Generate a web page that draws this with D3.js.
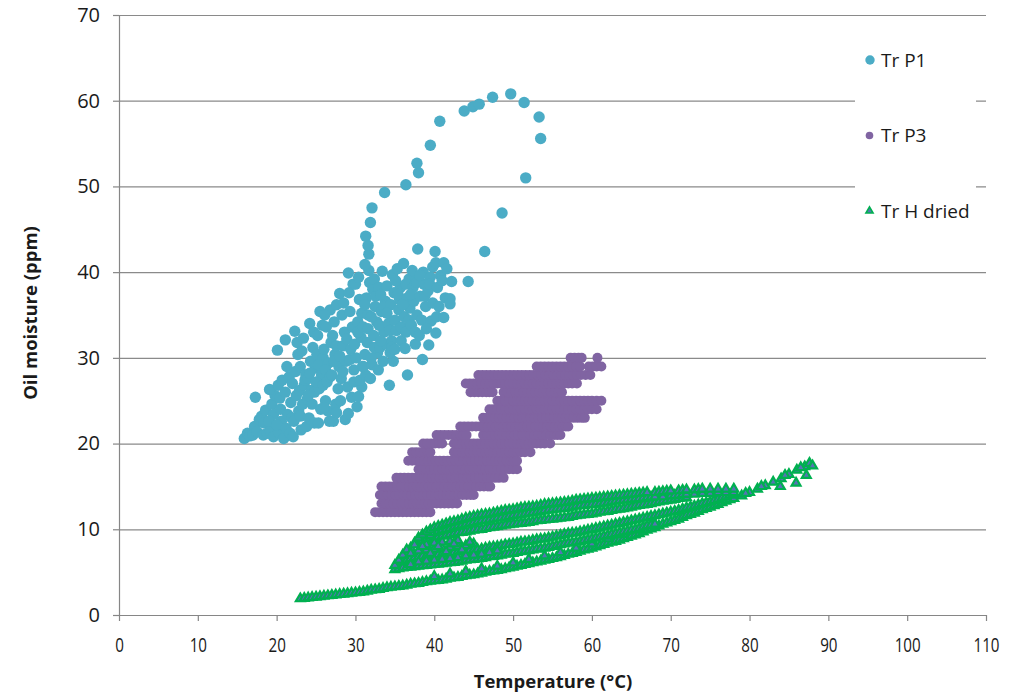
<!DOCTYPE html>
<html>
<head>
<meta charset="utf-8">
<script src="https://cdn.jsdelivr.net/npm/d3@7"></script>
<style>
body { margin: 0; background: #fff; }
text { font-family: "Open Sans", sans-serif; fill: #1a1a1a; }
</style>
</head>
<body>
<div class="chart"></div>
<script>
// ---- data ----
const xTicks = [0, 10, 20, 30, 40, 50, 60, 70, 80, 90, 100, 110];
const yTicks = [0, 10, 20, 30, 40, 50, 60, 70];
const seriesNames = ["Tr P1", "Tr P3", "Tr H dried"];
const xTitle = "Temperature (°C)";
const yTitle = "Oil moisture (ppm)";

// Tr P1 : [temperature, moisture]
const p1Points = [
  [15.9,20.6],[16.3,21.2],[16.6,20.9],
  [17.0,21.0],[17.2,22.0],[17.5,21.4],[17.8,22.8],[17.3,25.4],
  [18.3,21.0],[18.1,23.2],[18.6,23.9],[18.4,22.4],[18.8,21.2],
  [19.2,21.5],[19.6,20.8],[19.4,24.6],[19.8,25.6],[19.1,26.3],[19.6,23.4],[19.0,22.6],
  [20.1,30.9],[20.3,21.3],[20.5,24.0],[20.2,26.8],[20.7,27.4],[20.9,20.6],[20.6,22.6],[20.4,25.3],[20.0,22.2],
  [21.1,32.1],[21.2,21.8],[21.4,23.4],[21.1,26.0],[21.6,27.8],[21.3,29.0],[21.8,24.8],[21.7,21.2],[21.9,23.0],
  [22.3,33.1],[22.1,20.8],[22.2,22.6],[22.5,25.6],[22.0,27.0],[22.4,28.4],[22.7,30.4],[22.8,23.8],[22.6,31.8],[22.9,26.2],
  [23.1,21.6],[23.3,24.6],[23.0,29.0],[23.5,26.8],[23.4,32.3],[23.8,22.0],[23.7,28.0],[23.2,30.8],[23.9,25.2],[23.6,27.4],[23.0,23.2],
  [24.2,34.0],[24.1,23.0],[24.4,26.2],[24.3,29.6],[24.6,31.2],[24.0,27.6],[24.8,22.4],[24.7,33.0],[24.5,24.6],[24.9,28.8],[24.2,28.2],[24.8,26.0],[24.0,25.6],
  [25.3,22.4],[25.5,35.4],[25.1,30.4],[25.4,26.4],[25.2,32.6],[25.7,28.0],[25.6,24.0],[25.8,33.8],[25.9,30.0],[25.0,27.2],[25.3,29.2],[25.9,26.8],
  [26.2,25.0],[26.8,35.6],[26.0,31.0],[26.4,27.2],[26.3,33.6],[26.6,29.4],[26.7,22.6],[26.5,23.8],[26.9,31.8],[26.1,35.0],[26.2,28.6],[26.8,27.8],[26.0,24.2],
  [27.2,22.6],[27.0,28.0],[27.4,30.4],[27.3,34.2],[27.6,36.2],[27.8,26.4],[27.5,24.6],[27.1,32.6],[27.9,29.0],[27.3,29.6],[27.6,31.4],[27.6,23.6],
  [28.0,37.5],[28.2,27.6],[28.4,31.4],[28.7,22.8],[28.3,35.0],[28.6,33.0],[28.1,25.0],[28.8,29.6],[28.5,36.4],[28.0,30.2],[28.4,28.4],[28.9,32.2],
  [29.1,39.9],[29.3,35.4],[29.1,23.5],[29.0,26.6],[29.4,31.0],[29.6,33.6],[29.2,37.6],[29.8,28.6],[29.7,38.6],[29.5,25.4],[29.3,29.8],[29.9,31.6],[29.8,27.2],
  [30.2,24.3],[30.4,25.5],[30.8,26.6],[30.6,27.4],[30.1,30.0],[30.3,34.2],[30.5,36.8],[30.0,38.6],[30.7,32.4],[30.9,29.0],[30.4,39.4],[30.3,33.0],[30.8,35.2],
  [31.2,30.4],[31.0,33.6],[31.4,37.0],[31.3,28.0],[31.6,35.0],[31.8,38.8],[31.5,31.8],[31.9,27.6],[31.7,40.2],[31.2,36.2],[31.6,33.4],[31.0,29.0],
  [32.1,29.2],[32.3,32.6],[32.5,36.0],[32.2,38.0],[32.7,34.2],[32.8,30.6],[32.4,39.2],[32.9,28.6],[32.6,37.2],[32.0,34.8],[32.4,31.2],[32.0,30.0],
  [33.4,40.1],[33.1,31.2],[33.3,35.4],[33.6,33.0],[33.0,38.2],[33.8,36.6],[33.5,29.6],[33.2,37.4],[33.9,31.6],[33.0,33.8],[33.6,36.0],[33.2,32.0],
  [34.3,26.8],[34.7,39.7],[34.8,29.6],[34.2,34.0],[34.5,36.2],[34.0,38.4],[34.6,32.0],[34.9,37.6],[34.4,30.6],[34.0,35.2],[34.4,33.2],[34.6,31.2],
  [35.2,33.2],[35.5,35.6],[35.0,31.0],[35.7,38.2],[35.3,40.4],[35.8,32.0],[35.6,36.8],[35.1,39.0],[35.0,34.4],[35.4,37.4],[35.8,33.6],
  [36.1,41.0],[36.6,28.0],[36.3,31.1],[36.2,34.8],[36.6,37.0],[36.8,39.2],[36.4,33.0],[36.9,35.8],[36.0,36.2],[36.4,38.6],[36.8,34.4],
  [37.1,33.8],[37.4,36.6],[37.3,38.2],[37.6,31.6],[37.8,35.0],[37.9,42.7],[37.5,39.6],[37.0,37.4],[37.2,40.2],[37.8,38.8],[37.6,33.0],
  [38.5,29.8],[38.2,37.2],[38.4,34.4],[38.7,38.6],[38.1,32.6],[38.9,36.0],[38.6,40.0],[38.2,39.6],[38.8,37.2],
  [39.3,31.5],[39.6,34.3],[39.2,37.8],[39.5,39.4],[39.8,36.4],[39.0,33.4],[39.4,38.6],[39.8,40.6],
  [40.2,32.9],[40.1,42.4],[40.2,41.1],[40.4,38.2],[40.6,36.0],[40.8,39.6],[40.3,34.8],
  [41.2,34.7],[41.2,41.1],[41.6,40.4],[41.4,37.0],[41.0,39.0],
  [42.0,36.9],[42.0,36.3],[42.2,38.9],[44.3,38.9],
  // the upper arc
  [31.2,40.9],[31.7,42.1],[31.6,43.1],[31.3,44.2],[31.9,45.8],[32.1,47.5],[33.7,49.3],
  [36.4,50.2],[38.0,51.6],[37.8,52.7],[39.5,54.8],[40.7,57.6],[43.8,58.8],[44.9,59.3],
  [45.7,59.6],[47.4,60.4],[49.7,60.8],[51.4,59.8],[53.3,58.1],[53.5,55.6],[51.6,51.0],
  [48.6,46.9],[46.4,42.4]
];

// Tr P3 : rows of [moisture, temperatures]
const p3Rows = [
  [12, [32.5,33,33.5,34,34.5,35,35.5,36,36.5,37,37.5,38,38.5,39,39.5]],
  [13, [33.3,33.8,34.3,34.8,35.3,35.8,36.3,36.8,37.3,37.8,38.3,38.8,39.3,39.8,40.3,40.8,41.3,41.8,42.3,42.9]],
  [14, [33.1,33.6,34.1,34.6,35.1,35.6,36.1,36.6,37.1,37.6,38.1,38.6,39.1,39.6,40.1,40.6,41.1,41.6,42.1,42.6,43.1,43.6,44.1,44.6,45.0]],
  [15, [33.3,33.8,34.3,34.8,35.3,35.8,36.3,36.8,37.3,37.8,38.3,38.8,39.3,39.8,40.3,40.8,41.3,41.8,42.3,42.8,43.3,43.8,44.3,44.8,45.3,45.8,46.3,46.8,47.1]],
  [16, [35.2,35.7,36.2,36.7,37.2,37.7,38.2,38.7,39.2,39.7,40.2,40.7,41.2,41.7,42.2,42.7,43.2,43.7,44.2,44.7,45.2,45.7,46.2,46.7,47.2,47.7,48.2,48.8]],
  [17, [38.0,38.5,39.0,39.5,40.0,40.5,41.0,41.5,42.0,42.5,43.0,43.5,44.0,44.5,45.0,45.5,46.0,46.5,47.0,47.5,48.0,48.5,49.0,49.5,50.0,50.5]],
  [18, [36.7,37.2,37.7,38.2,38.7,39.2,39.7,40.2,40.7,41.2,41.7,42.2,42.7,43.2,43.7,44.2,44.7,45.2,45.7,46.2,46.7,47.2,47.7,48.2,48.7,49.2,49.7,50.1,50.5]],
  [19, [37.2,37.7,38.2,38.7,39.2,39.5,42.5,43.0,43.5,44.0,44.5,45.0,45.5,46.0,46.5,47.0,47.5,48.0,48.5,49.0,49.5,50.0,50.5,51.0,51.5,52.2]],
  [20, [38.6,39.1,39.6,40.1,40.6,41.0,42.5,43.0,43.5,44.0,44.5,45.0,45.5,46.0,46.5,47.0,47.5,48.0,48.5,49.0,49.5,50.0,50.5,51.0,51.5,52.0,52.5,53.0,53.5,54.0,54.7]],
  [21, [40.3,40.8,41.3,41.8,42.3,42.8,43.3,43.7,44.1,46.2,46.7,47.2,47.7,48.2,48.7,49.2,49.7,50.2,50.7,51.2,51.7,52.2,52.7,53.2,53.7,54.2,54.7,55.2,55.6,56.0]],
  [22, [43.3,43.8,44.3,44.8,45.3,45.8,46.3,46.8,47.3,47.8,48.3,48.8,49.3,49.8,50.3,50.8,51.3,51.8,52.3,52.8,53.3,53.8,54.3,54.8,55.3,55.8,56.3,56.7,57.0]],
  [23, [46.2,46.7,47.2,47.7,48.2,48.7,49.2,49.7,50.2,50.7,51.2,51.7,52.2,52.7,53.2,53.7,54.2,54.7,55.2,55.7,56.2,56.7,57.2,57.7,58.2,58.7,59.1]],
  [24, [47.0,47.5,48.0,48.5,49.0,49.5,50.0,50.5,51.0,51.5,52.0,52.5,53.0,53.5,54.0,54.5,55.0,55.5,56.0,56.5,57.0,57.5,58.0,58.5,59.0,59.5,60.0,60.6]],
  [25, [48.0,48.5,49.0,49.5,50.0,50.5,51.0,51.5,52.0,52.5,53.0,53.5,54.0,54.5,55.0,55.5,56.0,56.5,57.0,57.5,58.0,58.5,59.0,59.5,60.0,60.6,61.2]],
  [26, [44.6,45.1,45.6,46.1,46.6,47.0,47.4,48.8,49.3,49.8,50.3,50.8,51.3,51.8,52.3,52.8,53.3,53.8,54.3,54.8,55.3,55.8,56.2]],
  [27, [44.0,44.5,45.0,45.5,46.0,46.5,47.0,47.5,48.0,48.5,49.0,49.5,50.0,50.5,51.0,51.5,52.0,52.5,53.0,53.5,54.0,54.5,55.0,55.5,56.0,56.5,57.0,57.5,58.1]],
  [28, [45.6,46.1,46.6,47.1,47.6,48.1,48.6,49.1,49.6,50.1,50.6,51.1,51.6,52.1,52.6,53.1,53.6,54.1,54.6,55.1,55.6,56.1,56.6,57.1,57.6,58.1,58.6,59.2,59.8]],
  [29, [53.0,53.5,54.0,54.5,55.0,55.5,56.0,56.5,57.0,57.5,58.0,58.5,59.6,60.1,60.6,61.2]],
  [30, [57.3,57.8,58.3,58.7,60.7]]
];

// Tr H dried : [temperature, moisture]
const hDriedPoints = [
  // lower heating curve
  [23,1.9],[23.5,1.95],[24,2.0],[24.5,2.05],[25,2.1],[25.5,2.15],[26,2.2],[26.5,2.25],[27,2.3],[27.5,2.35],
  [28,2.4],[28.5,2.45],[29,2.5],[29.5,2.55],[30,2.6],[30.5,2.65],[31,2.7],[31.5,2.8],[32,2.9],[32.5,2.95],
  [33,3.0],[33.5,3.1],[34,3.2],[34.5,3.25],[35,3.3],[35.5,3.35],[36,3.4],[36.5,3.5],[37,3.6],[37.5,3.65],
  [38,3.7],[38.5,3.8],[39,3.9],[39.5,3.95],[40,4.0],[40.5,4.05],[41,4.1],[41.5,4.2],[42,4.3],[42.5,4.35],
  [43,4.4],[43.5,4.5],[44,4.6],[44.5,4.65],[45,4.7],[45.5,4.8],[46,4.9],[46.5,5.0],[47,5.1],[47.5,5.15],
  [48,5.2],[48.5,5.3],[49,5.4],[49.5,5.5],[50,5.6],[50.5,5.7],[51,5.8],[51.5,5.9],[52,6.0],[52.5,6.1],
  [53,6.2],[53.5,6.3],[54,6.4],[54.5,6.5],[55,6.6],[55.5,6.7],[56,6.8],[56.5,6.95],[57,7.1],[57.5,7.2],
  [58,7.3],[58.5,7.45],[59,7.6],[59.5,7.7],[60,7.8],[60.5,7.95],[61,8.1],[61.5,8.25],[62,8.4],[62.5,8.5],
  [63,8.6],[63.5,8.75],[64,8.9],[64.5,9.05],[65,9.2],[65.5,9.35],[66,9.5],[66.5,9.7],[67,9.9],[67.5,10.05],
  [68,10.2],[68.5,10.4],[69,10.6],[69.5,10.75],[70,10.9],[70.5,11.05],[71,11.2],[71.5,11.4],[72,11.6],[72.5,11.75],
  [73,11.9],[73.5,12.1],[74,12.3],[74.5,12.45],[75,12.6],[75.5,12.75],[76,12.9],[76.5,13.1],[77,13.3],[77.5,13.45],
  [78,13.6],[79,13.9],[80,14.3],[81,14.7],[82,15.1],[83,15.5],[84,15.9],[85,16.4],[86,16.9],[87,17.3],
  [87.6,17.7],[88,17.4],[83.9,15.0],[85.9,15.4],[87.2,16.3],[79.5,14.2],[81.5,15.0],[84.5,16.3],[86.5,17.2],
  [40,4.5],[42,4.8],[44,5.1],[46,5.4],[48,5.7],[50,6.1],[52,6.5],[54,6.9],[56,7.3],[58,7.8],[60,8.3],[62,8.9],[64,9.4],[66,10.0],
  // loop, lowest band
  [35,5.3],[35.5,5.4],[36,5.5],[36.5,5.55],[37,5.6],[37.5,5.65],[38,5.7],[38.5,5.75],[39,5.8],[39.5,5.85],
  [40,5.9],[40.5,5.95],[41,6.0],[41.5,6.05],[42,6.1],[42.5,6.15],[43,6.2],[43.5,6.3],[44,6.4],[44.5,6.45],
  [45,6.5],[45.5,6.55],[46,6.6],[46.5,6.7],[47,6.8],[47.5,6.85],[48,6.9],[48.5,7.0],[49,7.1],[49.5,7.15],
  [50,7.2],[50.5,7.3],[51,7.4],[51.5,7.45],[52,7.5],[52.5,7.6],[53,7.7],[53.5,7.75],[54,7.8],[54.5,7.9],
  [55,8.0],[55.5,8.1],[56,8.2],[56.5,8.3],[57,8.4],[57.5,8.45],[58,8.5],[58.5,8.6],[59,8.7],[59.5,8.8],
  [60,8.9],[60.5,9.0],[61,9.1],[61.5,9.2],[62,9.3],[62.5,9.4],[63,9.5],[63.5,9.6],[64,9.7],[64.5,9.8],
  [65,9.9],[65.5,10.0],[66,10.1],[66.5,10.25],[67,10.4],[67.5,10.5],[68,10.6],
  [36,6.2],[36.5,6.4],[37,6.6],[37.5,6.7],[38,6.8],[38.5,6.85],[39,6.9],[39.5,6.95],[40,7.0],[40.5,7.05],
  [41,7.1],[41.5,7.15],[42,7.2],[42.5,7.3],[43,7.4],[43.5,7.45],[44,7.5],[44.5,7.55],[45,7.6],[45.5,7.65],
  [46,7.7],[46.5,7.8],[47,7.9],[47.5,7.95],[48,8.0],[48.5,8.1],[49,8.2],[49.5,8.25],[50,8.3],[50.5,8.4],
  [51,8.5],[51.5,8.55],[52,8.6],[52.5,8.7],[53,8.8],[53.5,8.85],[54,8.9],[54.5,9.0],[55,9.1],[55.5,9.2],
  [56,9.3],[56.5,9.4],[57,9.5],[57.5,9.55],[58,9.6],[58.5,9.7],[59,9.8],[59.5,9.9],[60,10.0],[60.5,10.1],
  [61,10.2],[61.5,10.3],[62,10.4],[62.5,10.5],[63,10.6],[63.5,10.7],[64,10.8],[64.5,10.9],[65,11.0],[65.5,11.1],
  [66,11.2],[66.5,11.3],[67,11.4],[67.5,11.5],[68,11.6],[68.5,11.7],[69,11.8],[69.5,11.9],[70,12.0],[70.5,12.1],
  [71,12.2],[71.5,12.35],[72,12.5],[72.5,12.6],[73,12.7],[73.5,12.85],[74,13.0],[74.5,13.1],[75,13.2],[75.5,13.35],
  [76,13.5],[76.5,13.65],[77,13.8],[77.5,14.0],[78,14.2],
  // loop, middle band
  [39,8.7],[39.5,8.85],[40,9.0],[40.5,9.1],[41,9.2],[41.5,9.3],[42,9.4],[42.5,9.5],[43,9.6],[43.5,9.65],
  [44,9.7],[44.5,9.8],[45,9.9],[45.5,9.95],[46,10.0],[46.5,10.1],[47,10.2],[47.5,10.25],[48,10.3],[48.5,10.4],
  [49,10.5],[49.5,10.55],[50,10.6],[50.5,10.65],[51,10.7],[51.5,10.75],[52,10.8],[52.5,10.9],[53,11.0],[53.5,11.05],
  [54,11.1],[54.5,11.15],[55,11.2],[55.5,11.25],[56,11.3],[56.5,11.35],[57,11.4],[57.5,11.5],[58,11.6],[58.5,11.65],
  [59,11.7],[59.5,11.75],[60,11.8],[60.5,11.9],[61,12.0],[61.5,12.05],[62,12.1],[62.5,12.2],[63,12.3],[63.5,12.35],
  [64,12.4],[64.5,12.5],[65,12.6],[65.5,12.7],[66,12.8],[66.5,12.85],[67,12.9],[67.5,13.0],[68,13.1],[68.5,13.2],
  [69,13.3],[69.5,13.35],[70,13.4],[70.5,13.5],[71,13.6],[71.5,13.65],[72,13.7],
  // loop, upper (cooling) band
  [38,8.4],[38.5,8.7],[39,9.0],[39.5,9.3],[40,9.6],[40.5,9.75],[41,9.9],[41.5,10.0],[42,10.1],[42.5,10.25],
  [43,10.4],[43.5,10.5],[44,10.6],[44.5,10.7],[45,10.8],[45.5,10.9],[46,11.0],[46.5,11.05],[47,11.1],[47.5,11.2],
  [48,11.3],[48.5,11.35],[49,11.4],[49.5,11.5],[50,11.6],[50.5,11.65],[51,11.7],[51.5,11.8],[52,11.9],[52.5,11.95],
  [53,12.0],[53.5,12.1],[54,12.2],[54.5,12.25],[55,12.3],[55.5,12.35],[56,12.4],[56.5,12.45],[57,12.5],[57.5,12.6],
  [58,12.7],[58.5,12.75],[59,12.8],[59.5,12.85],[60,12.9],[60.5,12.95],[61,13.0],[61.5,13.05],[62,13.1],[62.5,13.2],
  [63,13.3],[63.5,13.35],[64,13.4],[64.5,13.45],[65,13.5],[65.5,13.55],[66,13.6],[66.5,13.65],[67,13.7],[67.5,13.75],
  [68,13.8],[69,13.8],[70,13.9],[70.5,13.95],[71,14.0],[71.5,14.05],[72,14.1],[73,14.1],[74,14.2],[75,14.2],
  [76,14.3],[77,14.3],[78,14.3],
  [37,7.8],[37.5,8.4],[38,9.0],[38.5,9.35],[39,9.7],[39.5,9.95],[40,10.2],[40.5,10.35],[41,10.5],[41.5,10.65],
  [42,10.8],[42.5,10.9],[43,11.0],[43.5,11.15],[44,11.3],[44.5,11.4],[45,11.5],[45.5,11.6],[46,11.7],[46.5,11.75],
  [47,11.8],[47.5,11.9],[48,12.0],[48.5,12.1],[49,12.2],[49.5,12.25],[50,12.3],[50.5,12.4],[51,12.5],[51.5,12.55],
  [52,12.6],[52.5,12.65],[53,12.7],[53.5,12.8],[54,12.9],[54.5,12.95],[55,13.0],[55.5,13.05],[56,13.1],[56.5,13.15],
  [57,13.2],[57.5,13.3],[58,13.4],[58.5,13.45],[59,13.5],[59.5,13.55],[60,13.6],[60.5,13.65],[61,13.7],[61.5,13.75],
  [62,13.8],[62.5,13.85],[63,13.9],[63.5,13.95],[64,14.0],[64.5,14.05],[65,14.1],[65.5,14.15],[66,14.2],[66.5,14.25],
  [67,14.3],[68,14.3],[68.5,14.35],[69,14.4],[69.5,14.45],[70,14.5],[71,14.5],[71.5,14.55],[72,14.6],[73,14.6],
  [73.5,14.65],[74,14.7],[75,14.7],[76,14.7],[77,14.7],[78,14.7],
  // left end of the loops
  [35,5.8],[35.5,6.4],[36,7.0],[36.5,7.6],[37,5.9],[37,7.2],[37.5,8.2],[38,6.2],[38,7.5],
  [39,6.3],[39,7.6],[39,8.2],[40,6.4],[40,7.7],[40,8.4],[41,6.5],[41,7.8],[41,8.5],
  [42,6.6],[42,7.9],[42,8.6],[43,6.7],[43,8.0],[43,8.7],[44,6.9],[44,8.1],[45,7.0],[45,8.3],
  [46,7.1],[47,7.3],[48,7.5],[38.5,8.0],[39.5,7.2],[40.5,8.0],[41.5,7.4],[42.5,8.3],[43.5,7.6],[44.5,8.5]
];

const colors = ["#4BACC6", "#8064A2", "#00B050"];

// ---- chart ----
let outerWidth = 1013;
let outerHeight = 692;
let margin = {top: 15, right: 27, bottom: 77, left: 119};
let width = outerWidth - margin.left - margin.right;
let height = outerHeight - margin.top - margin.bottom;

let root = d3.select(".chart").append("svg")
    .attr("width", outerWidth)
    .attr("height", outerHeight);
let svg = root.append("g")
    .attr("transform", "translate(" + margin.left + "," + margin.top + ")");

const xScale = d3.scaleLinear().domain([0, 110]).range([0, width]);
const yScale = d3.scaleLinear().domain([0, 70]).range([height, 0]);

// horizontal gridlines
svg.append("g")
    .attr("class", "grid")
    .call(d3.axisLeft(yScale).tickValues(yTicks.slice(1)).tickSize(-width).tickFormat(""))
    .call(g => g.select(".domain").remove())
    .call(g => g.selectAll("line").attr("stroke", "#8a8a8a").attr("stroke-width", 1.2));

// Tr P1
svg.append("g").selectAll("circle")
    .data(p1Points)
    .enter()
    .append("circle")
    .attr("cx", d => xScale(d[0]))
    .attr("cy", d => yScale(d[1]))
    .attr("r", 5.7)
    .attr("fill", colors[0]);

// Tr P3
let p3Points = p3Rows.flatMap(r => r[1].map(t => [t, r[0]]));
svg.append("g").selectAll("circle")
    .data(p3Points)
    .enter()
    .append("circle")
    .attr("cx", d => xScale(d[0]))
    .attr("cy", d => yScale(d[1]))
    .attr("r", 5.0)
    .attr("fill", colors[1]);

// Tr H dried
let tri = d3.symbol().type(d3.symbolTriangle).size(34);
svg.append("g").selectAll("path")
    .data(hDriedPoints)
    .enter()
    .append("path")
    .attr("d", tri)
    .attr("transform", d => "translate(" + xScale(d[0]) + "," + yScale(d[1]) + ")")
    .attr("fill", "#5673B5")
    .attr("stroke", colors[2])
    .attr("stroke-width", 2.2);

// axes
let yAxis = svg.append("g")
    .attr("class", "axis y-axis")
    .call(d3.axisLeft(yScale).tickValues(yTicks).tickSize(6).tickSizeOuter(0).tickPadding(13));
let xAxis = svg.append("g")
    .attr("class", "axis x-axis")
    .attr("transform", `translate(0, ${height})`)
    .call(d3.axisBottom(xScale).tickValues(xTicks).tickSize(6).tickSizeOuter(0));

svg.selectAll(".axis .domain").attr("stroke", "#868686").attr("stroke-width", 1.2);
svg.selectAll(".axis line").attr("stroke", "#868686").attr("stroke-width", 1.2);
yAxis.selectAll("text").attr("font-size", 20).attr("font-family", "Open Sans").attr("fill", "#222");
xAxis.selectAll("text")
    .attr("font-size", 20)
    .attr("font-family", "Open Sans")
    .attr("fill", "#222")
    .attr("y", 37)
    .attr("dy", 0)
    .attr("transform", "scale(0.76,1)");

// axis titles
root.append("text")
    .attr("x", 553)
    .attr("y", 688)
    .attr("text-anchor", "middle")
    .attr("font-size", 18.5)
    .attr("font-weight", "bold")
    .text(xTitle);
root.append("text")
    .attr("transform", "translate(37,313) rotate(-90)")
    .attr("text-anchor", "middle")
    .attr("font-size", 18.5)
    .attr("font-weight", "bold")
    .text(yTitle);

// legend
let legend = root.append("g").attr("class", "legend");
legend.append("rect")
    .attr("x", 855).attr("y", 28)
    .attr("width", 121).attr("height", 205)
    .attr("fill", "#fff");
let legendY = [60, 135.5, 211];
legend.append("circle").attr("cx", 870).attr("cy", legendY[0]).attr("r", 4.7).attr("fill", colors[0]);
legend.append("circle").attr("cx", 869.5).attr("cy", legendY[1]).attr("r", 3.8).attr("fill", colors[1]);
legend.append("path")
    .attr("d", d3.symbol().type(d3.symbolTriangle).size(22))
    .attr("transform", "translate(869.5," + legendY[2] + ")")
    .attr("fill", "#5673B5")
    .attr("stroke", colors[2])
    .attr("stroke-width", 1.6);
legend.selectAll(".ltext")
    .data(seriesNames)
    .enter()
    .append("text")
    .attr("class", "ltext")
    .attr("x", 881)
    .attr("y", (d, i) => legendY[i] + 6.8)
    .attr("font-size", 19)
    .text(d => d);
</script>
</body>
</html>
